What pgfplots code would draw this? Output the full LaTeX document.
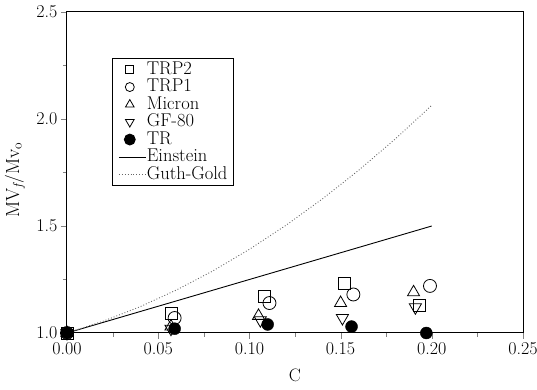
\documentclass[border=0pt]{standalone}
\usepackage{fontspec}
\usepackage{pgfplots}
\pgfplotsset{compat=1.18}
\pgfplotsset{
  markleg/.style={legend image code/.code={\draw[##1] plot coordinates {(0.38cm,0cm)};}},
}
\begin{document}
\begin{tikzpicture}
\begin{axis}[
  name=ax,
  scale only axis,
  width=456pt, height=321pt,
  xmin=0, xmax=0.25, ymin=1.0, ymax=2.5,
  xtick={0,0.05,0.10,0.15,0.20,0.25},
  ytick={1.0,1.5,2.0,2.5},
  minor x tick num=1, minor y tick num=1,
  xticklabel style={/pgf/number format/.cd,fixed,fixed zerofill,precision=2},
  yticklabel style={/pgf/number format/.cd,fixed,fixed zerofill,precision=1},
  /pgf/number format/assume math mode=true,
  tick label style={font=\fontsize{18}{21}\selectfont},
  tick align=outside,
  major tick length=6pt, minor tick length=4pt,
  xtick pos=bottom, ytick pos=left,
  axis line style={line width=1pt},
  xlabel={C},
  ylabel={MV\textsubscript{\itshape f}/Mv\textsubscript{o}},
  every axis x label/.style={at={(axis description cs:0.5,0)}, yshift=-42pt, anchor=center,
    font=\fontsize{18}{21}\selectfont},
  every axis y label/.style={at={(axis description cs:0,0.477)}, xshift=-52pt, anchor=center,
    rotate=90, font=\fontsize{19}{22}\selectfont},
  legend style={at={(0.099,0.857)}, anchor=north west, font=\fontsize{18.5}{20}\selectfont,
    draw=black, line width=0.8pt, inner xsep=6pt, inner ysep=3pt, row sep=1pt,
    nodes={inner sep=0.4pt, text height=12.5pt, text depth=3.2pt}},
  legend image code/.code={\draw[#1] (0cm,0cm) -- (0.95cm,0cm);},
  legend cell align=left,
  clip=false,
]
\addplot[only marks, mark=square, mark size=6pt, mark options={line width=0.8pt},
  markleg, legend image post style={mark size=4pt, line width=0.6pt}] coordinates {
  (0,1.0) (0.057,1.09) (0.108,1.17) (0.152,1.23) (0.193,1.13)};
\addlegendentry{TRP2}
\addplot[only marks, mark=o, mark size=6.5pt, mark options={line width=0.8pt},
  markleg, legend image post style={mark size=4.5pt, line width=0.6pt}] coordinates {
  (0,1.0) (0.059,1.07) (0.111,1.14) (0.157,1.18) (0.199,1.22)};
\addlegendentry{TRP1}
\addplot[only marks, mark=triangle, mark size=7pt, mark options={line width=0.8pt},
  markleg, legend image post style={mark size=5pt, line width=0.6pt}] coordinates {
  (0,1.0) (0.057,1.03) (0.105,1.08) (0.150,1.14) (0.190,1.19)};
\addlegendentry{Micron}
\addplot[only marks, mark=triangle, mark size=7pt, mark options={line width=0.8pt, rotate=180},
  markleg, legend image post style={mark size=5pt, line width=0.6pt}] coordinates {
  (0,1.0) (0.057,1.02) (0.106,1.06) (0.151,1.07) (0.191,1.12)};
\addlegendentry{GF-80}
\addplot[only marks, mark=*, mark size=6pt, fill=black,
  markleg, legend image post style={mark size=5.5pt}] coordinates {
  (0,1.0) (0.059,1.02) (0.110,1.04) (0.156,1.03) (0.197,1.00)};
\addlegendentry{TR}
\addplot[black, line width=0.9pt, no marks] coordinates {(0,1.0) (0.20,1.5)};
\addlegendentry{Einstein}
\addplot[black!60, dotted, line width=0.9pt, no marks] coordinates {
  (0,1.0) (0.02,1.0556) (0.04,1.1226) (0.06,1.2008) (0.08,1.2902) (0.10,1.391)
  (0.12,1.5030) (0.14,1.6264) (0.16,1.7610) (0.18,1.9068) (0.20,2.064)};
\addlegendentry{Guth-Gold}
\end{axis}
\pgfresetboundingbox
\path ([shift={(-67pt,-57pt)}]ax.south west) rectangle ([shift={(14pt,12pt)}]ax.north east);
\end{tikzpicture}
\end{document}
